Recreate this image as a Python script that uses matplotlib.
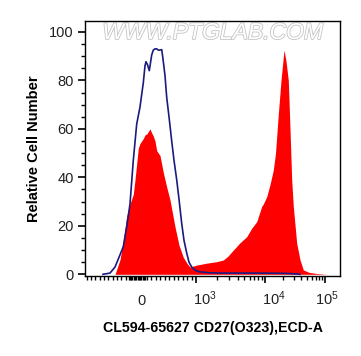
import numpy as np
import matplotlib
matplotlib.use("Agg")
import matplotlib.pyplot as plt
import matplotlib.patheffects as pe

plt.rcParams['font.family'] = ['Liberation Sans', 'DejaVu Sans']
plt.rcParams['mathtext.fontset'] = 'custom'
plt.rcParams['mathtext.rm'] = 'Liberation Sans'
plt.rcParams['mathtext.it'] = 'Liberation Sans'

# x positions in display (channel) units along the biexponential axis
red_x = [30, 31.7, 35, 38.3, 41.7, 45, 48.3, 50, 53.3, 55, 58.3, 60, 62, 63.5, 65, 66.5,
         68.3, 70, 71.7, 75, 78.3, 81.7, 85, 90, 94, 98.3, 102, 105, 111.7, 121.7, 131.7,
         138.3, 143, 148.3, 155, 161.7, 166.7, 171.7, 176.7, 178.3, 181.7, 185, 188.3,
         190.5, 193.3, 196, 199, 201, 203.3, 205, 206.7, 208.3, 211.7, 215, 218.3, 224,
         232, 242]
red_y = [0, 2, 6, 14, 24, 29, 33, 39, 52, 54, 56, 57.5, 58, 59, 60, 58.5,
         57, 55, 51, 49, 42, 36, 30.7, 19.6, 12, 7, 4.5, 3, 3.8, 4.6, 5.2,
         5.9, 7.5, 10, 13, 15.5, 19, 21.7, 28, 29, 32, 37, 43,
         50, 66, 80, 92.5, 88, 80, 60, 39, 28, 12.8, 6, 1.8, 0.8,
         0.3, 0]

blue_x = [18, 25, 30, 34, 38.3, 41.7, 45, 48.3, 51.7, 55, 58.3, 60, 61, 62.5, 64.3,
          66.7, 68.3, 70, 71.7, 73.3, 75, 76.7, 77.7, 80, 81.7, 84, 86.7, 89, 91.7,
          94, 96.7, 99, 101.7, 104, 106.7, 111, 115, 125, 138, 170, 200, 210, 215]
blue_y = [0, 0.5, 3, 7, 11.4, 19.6, 29, 47, 62, 69, 79, 86, 87.7, 86.5, 84,
          90.5, 92.5, 93, 93, 92.5, 92.5, 92.7, 89.8, 82, 73, 65, 55, 47, 39,
          31, 21, 14, 8.8, 5, 3, 1.5, 1, 0.6, 0.5, 0.5, 0.4, 0.2, 0]

x_major_pos = [111, 180, 240]
x_label_pos = [56, 119.5, 189, 242]
x_major_lab = ['0', r'$10^3$', r'$10^4$', r'$10^5$']
y_ticks = [0, 20, 40, 60, 80, 100]

fig = plt.figure(figsize=(3.61, 3.56), dpi=100)
ax = fig.add_axes([85/361, 1-276/356, 255/361, 255/356])

ax.fill_between(red_x, red_y, 0, color='#ff0000', linewidth=0, zorder=2)
ax.plot(blue_x, blue_y, color='#1a1a80', linewidth=1.2, zorder=3)

ax.set_xlim(0, 255)
ax.set_ylim(-0.7, 104.5)

# x ticks
ax.set_xticks(x_major_pos)
ax.set_xticklabels([])
ax.tick_params(axis='x', which='major', length=5, width=1.2, direction='out')
minors = list(np.linspace(1.7, 40.7, 10)) + list(np.arange(43.5, 60.5, 1.3)) + \
    list(np.linspace(61.7, 106.7, 11))
for b, s in [(111, 69), (180, 60)]:
    for m in range(2, 10):
        minors.append(b + s * np.log10(m))
ax.set_xticks(minors, minor=True)
ax.tick_params(axis='x', which='minor', length=3, width=1, direction='out')
for xp, lab in zip(x_label_pos, x_major_lab):
    ax.annotate(lab, xy=(xp, 0), xycoords=('data', 'axes fraction'),
                xytext=(0, -20.8), textcoords='offset points', ha='center', va='baseline',
                fontsize=10.5, color='#222222')

ax.set_yticks(y_ticks)
ax.set_yticks(np.arange(0, 105, 5), minor=True)
ax.tick_params(axis='y', which='major', length=5, width=1.2, direction='out', pad=3,
               labelsize=10.5, labelcolor='#222222')
ax.tick_params(axis='y', which='minor', length=3, width=1, direction='out')

for sp in ax.spines.values():
    sp.set_linewidth(1)
    sp.set_color('black')

ax.set_ylabel('Relative Cell Number', fontsize=10.5, fontweight='bold', labelpad=6)
ax.text(0.5, -52 / 356 * 3.56 * 72 / 72, '', transform=ax.transAxes)
fig.text((103 + 322) / 2 / 361, 1 - 328 / 356, 'CL594-65627 CD27(O323),ECD-A',
         ha='center', va='center', fontsize=10.2, fontweight='bold')

ax.text(0.5, 0.955, 'WWW.PTGLAB.COM', transform=ax.transAxes, ha='center', va='center',
        fontsize=16.5, color='white', style='italic',
        path_effects=[pe.withStroke(linewidth=1.2, foreground='#c4c4c4')], zorder=1)

fig.savefig('out.png', dpi=100)
